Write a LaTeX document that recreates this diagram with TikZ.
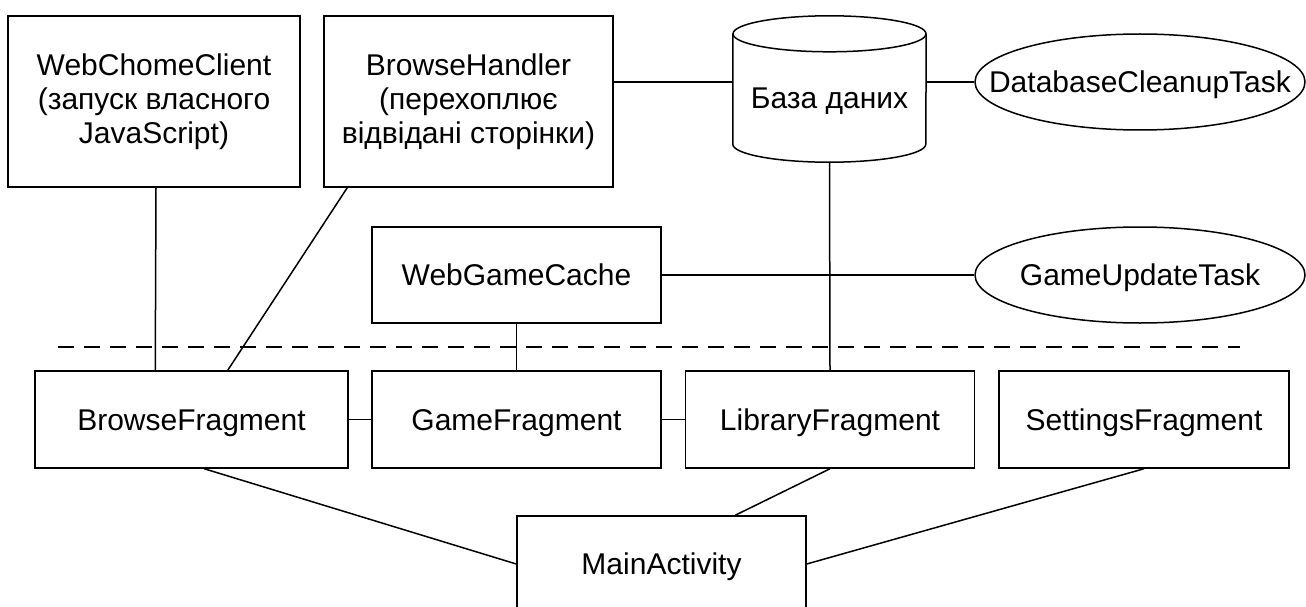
\documentclass[tikz,border=0pt]{standalone}
\usepackage{fontspec}
\setmainfont{Liberation Sans}
\usetikzlibrary{calc,shapes.geometric}
\tikzset{
  box/.style={draw, rectangle, line width=1.5pt, inner sep=0pt, align=center,
    font=\fontsize{30}{34}\selectfont},
  one/.style={text height=21.5pt, text depth=0pt},
  task/.style={draw, ellipse, line width=1.5pt, inner sep=0pt, one,
    minimum width=330pt, minimum height=96pt, font=\fontsize{30}{34}\selectfont},
  plain/.style={draw=none, rectangle, inner sep=0pt, font=\fontsize{30}{34}\selectfont},
  link/.style={line width=1.5pt},
  sep/.style={line width=2pt, dash pattern=on 16pt off 10pt}
}
\begin{document}
\begin{tikzpicture}[x=1pt,y=-1pt]
\useasboundingbox (0,0) rectangle (1306,607);
\clip (0,0) rectangle (1306,607);
% top row
\node[box, minimum width=292pt, minimum height=171pt] (wcc) at (154,101.5)
  {WebChomeClient\\(запуск власного\\JavaScript)};
\node[box, minimum width=289pt, minimum height=171pt] (bh) at (468.5,101.5)
  {BrowseHandler\\(перехоплює\\відвідані сторінки)};
% database cylinder
\node[plain, one, minimum width=193pt, minimum height=128pt] (db) at (829.5,98) {База даних};
\draw[link] (db.north) ellipse [x radius=96.5pt, y radius=18pt];
\draw[link] (db.north west) -- ($(db.south west)+(0,-18)$)
  arc[start angle=180, end angle=360, x radius=96.5pt, y radius=18pt]
  -- (db.north east);
\node[task] (dbc) at (1140,82) {\makebox[0pt]{DatabaseCleanupTask}};
% middle
\node[box, one, minimum width=289pt, minimum height=96pt] (wgc) at (516.5,275) {WebGameCache};
\node[task] (gut) at (1140,275) {\makebox[0pt]{GameUpdateTask}};
% bottom row
\node[box, one, minimum width=313pt, minimum height=97pt] (bf) at (191.5,419.5) {BrowseFragment};
\node[box, one, minimum width=289pt, minimum height=97pt] (gf) at (516.5,419.5) {GameFragment};
\node[box, one, minimum width=289pt, minimum height=97pt] (lf) at (830,419.5) {LibraryFragment};
\node[box, one, minimum width=290pt, minimum height=97pt] (sf) at (1144,419.5) {SettingsFragment};
\node[box, one, minimum width=289pt, minimum height=96pt] (ma) at (661.5,564) {MainActivity};
% separator
\coordinate (sepL) at (58,347);
\coordinate (sepR) at (1240,347);
\coordinate (yA) at (0,82);
\draw[sep] (sepL) -- (sepR);
% connectors
\draw[link] ($(wcc.south)+(2,0)$) -- ($(bf.north west)+(121,0)$);
\draw[link] ($(bh.south west)+(24,0)$) -- ($(bf.north west)+(193.5,0)$);
\draw[link] (bh.east |- yA) -- (db.west |- yA);
\draw[link] (db.east |- yA) -- (dbc.west);
\draw[link] (db.south) -- (lf.north);
\draw[link] (wgc.east) -- (gut.west);
\draw[link] (wgc.south) -- (gf.north);
\draw[link] (bf.east) -- (gf.west);
\draw[link] (gf.east) -- (lf.west);
\draw[link] ($(bf.south west)+(170,0)$) -- (ma.west);
\draw[link] (lf.south) -- ($(ma.north west)+(219,0)$);
\draw[link] (sf.south) -- (ma.east);
\end{tikzpicture}
\end{document}
